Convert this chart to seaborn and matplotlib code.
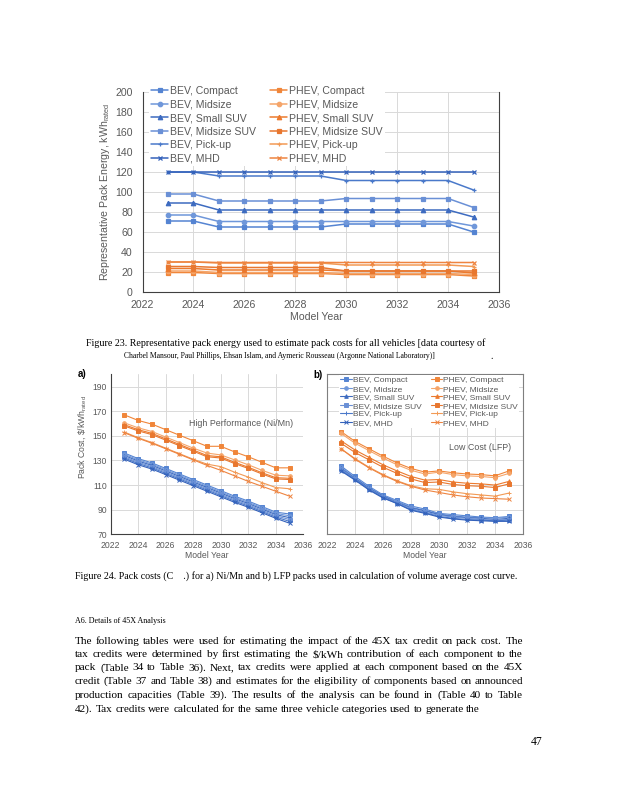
import matplotlib
matplotlib.use("Agg")
import matplotlib.pyplot as plt
import seaborn as sns
import pandas as pd

# ---------------- data ----------------
years = [2023, 2024, 2025, 2026, 2027, 2028, 2029, 2030, 2031, 2032, 2033, 2034, 2035]
series_names = ["BEV, Compact", "BEV, Midsize", "BEV, Small SUV", "BEV, Midsize SUV",
                "BEV, Pick-up", "BEV, MHD",
                "PHEV, Compact", "PHEV, Midsize", "PHEV, Small SUV", "PHEV, Midsize SUV",
                "PHEV, Pick-up", "PHEV, MHD"]

# Figure 23: representative pack energy (kWh rated)
energy_bev_compact = [71, 71, 65, 65, 65, 65, 65, 68, 68, 68, 68, 68, 60]
energy_bev_midsize = [77, 77, 70.5, 70.5, 70.5, 70.5, 70.5, 70.5, 70.5, 70.5, 70.5, 70.5, 66]
energy_bev_small_suv = [89, 89, 82, 82, 82, 82, 82, 82, 82, 82, 82, 82, 75]
energy_bev_midsize_suv = [98, 98, 91, 91, 91, 91, 91, 93.5, 93.5, 93.5, 93.5, 93.5, 84.5]
energy_bev_pickup = [120, 120, 116, 116, 116, 116, 116, 111.5, 111.5, 111.5, 111.5, 111.5, 102]
energy_bev_mhd = [120, 120, 120, 120, 120, 120, 120, 120, 120, 120, 120, 120, 120]
energy_phev_compact = [19.5, 19.5, 18.5, 18.5, 18.5, 18.5, 18.5, 17.5, 17.5, 17.5, 17.5, 17.5, 16]
energy_phev_midsize = [21, 21, 19.5, 19.5, 19.5, 19.5, 19.5, 18.5, 18.5, 18.5, 18.5, 18.5, 17.5]
energy_phev_small_suv = [23.5, 23.5, 22, 22, 22, 22, 22, 21, 21, 21, 21, 21, 19]
energy_phev_midsize_suv = [25.5, 25.5, 24.5, 24.5, 24.5, 24.5, 24.5, 21, 21, 21, 21, 21, 21]
energy_phev_pickup = [30, 30, 29, 29, 29, 29, 29, 27, 27, 27, 27, 27, 25.5]
energy_phev_mhd = [30, 30, 29.5, 29.5, 29.5, 29.5, 29.5, 29.5, 29.5, 29.5, 29.5, 29.5, 29.5]

# Figure 24a: High Performance (Ni/Mn) pack cost, $/kWh rated
hp_bev_compact = [136, 131.5, 128, 123.5, 119, 114.5, 110, 105.5, 101, 97, 92.5, 88, 86.5]
hp_bev_midsize = [135, 130.5, 127, 122.5, 118, 113.5, 109, 104.5, 100, 96, 91.5, 87, 85]
hp_bev_small_suv = [134, 129.5, 126, 121.5, 117, 112.5, 108, 103.5, 99, 95, 90.5, 86, 83.5]
hp_bev_midsize_suv = [133, 128.5, 125, 120.5, 116, 111.5, 107, 102.5, 98, 94, 89.5, 85, 82]
hp_bev_pickup = [132, 127.5, 124, 119.5, 115, 110.5, 106, 101.5, 97, 93, 88.5, 84, 80.5]
hp_bev_mhd = [131, 126.5, 123, 118.5, 114, 109.5, 105, 100.5, 96, 92, 87.5, 83, 79]
hp_phev_compact = [167, 162.5, 159.5, 155, 150.5, 146, 141.5, 141.5, 137, 133, 128.5, 124, 124]
hp_phev_midsize = [160.5, 156.5, 153.5, 149, 144.5, 140, 136, 134.5, 130.5, 126.5, 122, 118, 117.5]
hp_phev_small_suv = [159, 155, 152, 147.5, 143, 138.5, 134, 133, 128.5, 124.5, 120, 116, 115.5]
hp_phev_midsize_suv = [158, 154, 151, 146.5, 142, 137.5, 133, 132, 127.5, 123.5, 119, 115, 114.5]
hp_phev_pickup = [153, 148.5, 144.5, 140, 135.5, 131, 127, 125, 120.5, 116.5, 112, 108, 107]
hp_phev_mhd = [152.5, 148, 144, 139.5, 135, 130.5, 126, 122, 117.5, 113, 109, 105, 101]

# Figure 24b: Low Cost (LFP) pack cost, $/kWh rated
lfp_bev_compact = [125.5, 117, 109, 102, 97.5, 93, 90.5, 87, 86, 85, 84, 83.5, 84.5]
lfp_bev_midsize = [124.5, 116, 108, 101.5, 97, 92, 89.5, 86.5, 85, 84, 83.5, 83, 84]
lfp_bev_small_suv = [123.5, 115.5, 107.5, 101, 96, 91.5, 89, 86, 84.5, 83.5, 83, 82, 83]
lfp_bev_midsize_suv = [123, 115, 107, 100.5, 95.5, 91, 88, 85.5, 84, 83, 82, 81.5, 82]
lfp_bev_pickup = [122, 114.5, 106.5, 100, 95, 90, 87.5, 84.5, 83, 82, 81.5, 81, 81.5]
lfp_bev_mhd = [121.5, 114, 106, 99.5, 95, 89.5, 87, 84, 82.5, 81.5, 81, 80.5, 80.5]
lfp_phev_compact = [153.5, 145.5, 139.5, 133.5, 128, 123.5, 120.5, 121.5, 120, 119, 118.5, 117.5, 121.5]
lfp_phev_midsize = [152, 144, 138, 132, 126.5, 122, 119, 120.5, 118.5, 117.5, 117, 116, 119.5]
lfp_phev_small_suv = [146, 138.5, 132.5, 126.5, 121.5, 117, 114, 114.5, 112.5, 111.5, 111, 110, 113]
lfp_phev_midsize_suv = [144, 136.5, 130.5, 124.5, 119.5, 115, 112, 112.5, 110.5, 109.5, 109, 108, 111]
lfp_phev_pickup = [139.5, 131.5, 124.5, 118.5, 113.5, 109.5, 107, 106.5, 104.5, 103, 102, 101, 103.5]
lfp_phev_mhd = [139.5, 131, 124, 118, 113, 109, 106, 104, 102, 100.5, 99.5, 99, 98.5]

energy_data = [energy_bev_compact, energy_bev_midsize, energy_bev_small_suv, energy_bev_midsize_suv,
               energy_bev_pickup, energy_bev_mhd, energy_phev_compact, energy_phev_midsize,
               energy_phev_small_suv, energy_phev_midsize_suv, energy_phev_pickup, energy_phev_mhd]
hp_data = [hp_bev_compact, hp_bev_midsize, hp_bev_small_suv, hp_bev_midsize_suv, hp_bev_pickup,
           hp_bev_mhd, hp_phev_compact, hp_phev_midsize, hp_phev_small_suv, hp_phev_midsize_suv,
           hp_phev_pickup, hp_phev_mhd]
lfp_data = [lfp_bev_compact, lfp_bev_midsize, lfp_bev_small_suv, lfp_bev_midsize_suv, lfp_bev_pickup,
            lfp_bev_mhd, lfp_phev_compact, lfp_phev_midsize, lfp_phev_small_suv, lfp_phev_midsize_suv,
            lfp_phev_pickup, lfp_phev_mhd]

x_ticks = [2022, 2024, 2026, 2028, 2030, 2032, 2034, 2036]
energy_ticks = [0, 20, 40, 60, 80, 100, 120, 140, 160, 180, 200]
cost_ticks = [70, 90, 110, 130, 150, 170, 190]

caption23_a = "Figure 23. Representative pack energy used to estimate pack costs for all vehicles [data courtesy of"
caption23_b = "Charbel Mansour, Paul Phillips, Ehsan Islam, and Aymeric Rousseau (Argonne National Laboratory)]"
caption24 = "Figure 24. Pack costs (C    .) for a) Ni/Mn and b) LFP packs used in calculation of volume average cost curve."
heading = "A6. Details of 45X Analysis"
body_lines = [
    "The following tables were used for estimating the impact of the 45X tax credit on pack cost. The",
    "tax credits were determined by first estimating the $/kWh contribution of each component to the",
    "pack (Table 34 to Table 36). Next, tax credits were applied at each component based on the 45X",
    "credit (Table 37 and Table 38) and estimates for the eligibility of components based on announced",
    "production capacities (Table 39). The results of the analysis can be found in (Table 40 to Table",
    "42). Tax credits were calculated for the same three vehicle categories used to generate the",
]
page_number = "47"

# ---------------- styles ----------------
colors = ["#5584D2", "#6F97DA", "#3D6BC0", "#6A90D6", "#4A79CA", "#3462BB",
          "#F0863A", "#F5A56A", "#EC7A2E", "#E8772F", "#F29A55", "#EE8440"]
markers = ["s", "o", "^", "s", "+", "x", "s", "o", "^", "s", "+", "x"]

sns.set_theme(style="white")
plt.rcParams["font.family"] = ["Liberation Sans", "DejaVu Sans"]
plt.rcParams["mathtext.fontset"] = "custom"
plt.rcParams["mathtext.rm"] = "Liberation Sans"

W, H = 618, 800
fig = plt.figure(figsize=(W / 100, H / 100), dpi=100)
fig.patch.set_facecolor("white")
TXT = "#595959"
GRID = "#D9D9D9"
AX = "#404040"


def fx(px):
    return px / W


def fy(py):
    return 1 - py / H


def axes_px(left, top, right, bottom):
    return fig.add_axes([fx(left), fy(bottom), (right - left) / W, (bottom - top) / H])


def draw_lines(ax, data, lw, ms, mew):
    handles = []
    for name, vals, c, m in zip(series_names, data, colors, markers):
        df = pd.DataFrame({"year": years, "value": vals})
        sns.lineplot(data=df, x="year", y="value", ax=ax, color=c, marker=m, markersize=ms,
                     linewidth=lw, markeredgecolor=c, markeredgewidth=mew, label=name,
                     legend=False)
        handles.append(ax.lines[-1])
    return handles


def style_axes(ax, ylim, yticks, fs, ypad, xpad):
    ax.set_xlim(2022, 2036)
    ax.set_ylim(*ylim)
    ax.set_xticks(x_ticks)
    ax.set_yticks(yticks)
    ax.grid(True, color=GRID, linewidth=0.7)
    ax.set_axisbelow(True)
    ax.tick_params(axis="both", length=0, labelsize=fs, labelcolor=TXT)
    ax.tick_params(axis="y", pad=ypad)
    ax.tick_params(axis="x", pad=xpad)
    ax.set_xlabel("")
    ax.set_ylabel("")
    for s in ax.spines.values():
        s.set_color(AX)
        s.set_linewidth(0.8)


# ---------------- Figure 23 chart ----------------
ax1 = axes_px(142.5, 92, 499, 292)
h1 = draw_lines(ax1, energy_data, 1.1, 3.2, 0.9)
style_axes(ax1, (0, 200), energy_ticks, 7.6, 7, 6)
ax1.spines["top"].set_visible(False)
leg1 = ax1.legend(handles=h1, labels=series_names, ncol=2, loc="upper left",
                  bbox_to_anchor=(fx(149), fy(84)), bbox_transform=fig.transFigure,
                  fontsize=7.6, frameon=True, facecolor="white", edgecolor="none",
                  framealpha=1, borderpad=0.2, borderaxespad=0, handlelength=1.6,
                  handletextpad=0.15, columnspacing=1.4, labelspacing=0.33, fancybox=False)
for t in leg1.get_texts():
    t.set_color(TXT)
fig.text(fx(316), fy(317), "Model Year", ha="center", va="center", fontsize=7.6, color=TXT)
fig.text(fx(105), fy(192), r"Representative Pack Energy, kWh$_{\mathregular{rated}}$",
         rotation=90, ha="center", va="center", fontsize=7.6, color=TXT)

# ---------------- Figure 24a ----------------
ax2 = axes_px(110.7, 374.3, 303.3, 534.3)
draw_lines(ax2, hp_data, 0.8, 2.6, 0.7)
style_axes(ax2, (70, 200), cost_ticks, 6.2, 2.5, 4.5)
ax2.spines["top"].set_visible(False)
ax2.spines["right"].set_visible(False)
ax2.text(2031.5, 160.3, "High Performance (Ni/Mn)", ha="center", va="center", fontsize=6.4, color=TXT)
fig.text(fx(207), fy(556), "Model Year", ha="center", va="center", fontsize=6.2, color=TXT)
fig.text(fx(82), fy(437), r"Pack Cost, \$/kWh$_{\mathregular{rated}}$", rotation=90,
         ha="center", va="center", fontsize=6.2, color=TXT)
fig.text(fx(78), fy(374), "a)", ha="left", va="center", fontsize=7, fontweight="bold", color="black")

# ---------------- Figure 24b ----------------
ax3 = axes_px(327, 374.3, 523, 534.3)
h3 = draw_lines(ax3, lfp_data, 0.8, 2.6, 0.7)
style_axes(ax3, (70, 200), cost_ticks, 6.2, 2.5, 4.5)
ax3.set_yticklabels([])
for s in ax3.spines.values():
    s.set_color("#7F7F7F")
leg3 = ax3.legend(handles=h3, labels=series_names, ncol=2, loc="upper left",
                  bbox_to_anchor=(fx(339), fy(375)), bbox_transform=fig.transFigure,
                  fontsize=6.0, frameon=True, facecolor="white", edgecolor="none",
                  framealpha=1, borderpad=0.15, borderaxespad=0, handlelength=1.4,
                  handletextpad=0.1, columnspacing=1.1, labelspacing=0.08, fancybox=False)
for t in leg3.get_texts():
    t.set_color(TXT)
ax3.text(2032.9, 140.9, "Low Cost (LFP)", ha="center", va="center", fontsize=6.4, color=TXT)
fig.text(fx(425), fy(556), "Model Year", ha="center", va="center", fontsize=6.2, color=TXT)
fig.text(fx(313), fy(375), "b)", ha="left", va="center", fontsize=7, fontweight="bold", color="black")

# ---------------- page text ----------------
renderer = fig.canvas.get_renderer()
SERIF = ["Liberation Serif", "DejaVu Serif"]


def fit_text(s, x0, x1, y, ref_fs=10):
    t = fig.text(fx(x0), fy(y), s, ha="left", va="center", fontsize=ref_fs, family=SERIF,
                 color="black")
    w = t.get_window_extent(renderer).width
    t.set_fontsize(ref_fs * (x1 - x0) / w)
    return t


fit_text(caption23_a, 86, 482, 343)
fit_text(caption23_b, 124, 437, 356)
fig.text(fx(490), fy(356), ".", ha="left", va="center", fontsize=7, family=SERIF, color="black")
fit_text(caption24, 75, 513, 576.5)
fit_text(heading, 75, 165, 621)

# body text: justified
body_x0, body_x1 = 75, 523
body_y = [641, 654.5, 668, 681.5, 695.5, 709]
probe = fig.text(0, 0, body_lines[3], fontsize=10, family=SERIF)
natural = probe.get_window_extent(renderer).width
probe.remove()
body_fs = 10 * (body_x1 - body_x0) / natural * 0.985
for i, (line, y) in enumerate(zip(body_lines, body_y)):
    words = line.split(" ")
    ts = [fig.text(0, 0, w, fontsize=body_fs, family=SERIF, color="black", va="center", ha="left")
          for w in words]
    widths = [t.get_window_extent(renderer).width for t in ts]
    if i < len(body_lines) - 1:
        gap = (body_x1 - body_x0 - sum(widths)) / (len(words) - 1)
    else:
        sp = fig.text(0, 0, "a a", fontsize=body_fs, family=SERIF)
        sp_w = sp.get_window_extent(renderer).width
        a = fig.text(0, 0, "aa", fontsize=body_fs, family=SERIF)
        gap = sp_w - a.get_window_extent(renderer).width
        sp.remove()
        a.remove()
    x = body_x0
    for t, w in zip(ts, widths):
        t.set_position((fx(x), fy(y)))
        x += w + gap

fig.text(fx(537), fy(742), page_number, ha="center", va="center", fontsize=8.4, family=SERIF,
         color="black")

fig.savefig("out.png", dpi=100, facecolor="white")
